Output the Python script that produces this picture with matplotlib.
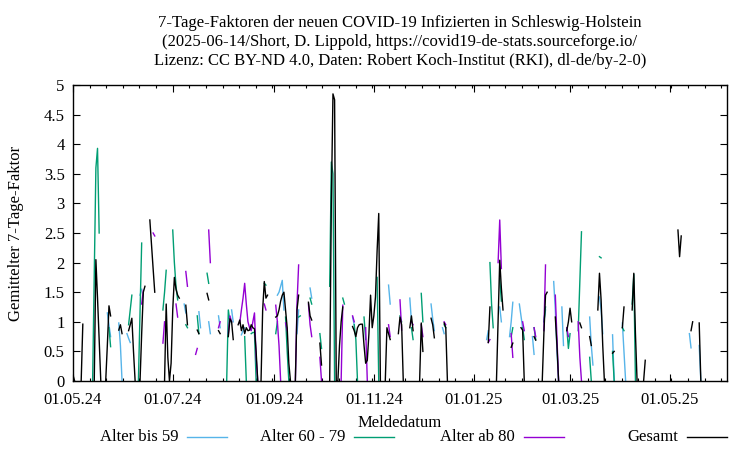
import matplotlib
matplotlib.use('Agg')
import matplotlib.pyplot as plt
import matplotlib.dates as mdates
from matplotlib.ticker import MultipleLocator, AutoMinorLocator, FuncFormatter
from matplotlib.lines import Line2D
import numpy as np
import pandas as pd

plt.rcParams['font.family'] = ['Liberation Serif', 'DejaVu Serif']
plt.rcParams['font.size'] = 12

# Tageswerte; Segmente = (Tag seit 01.05.2024, Werte)
start = pd.Timestamp('2024-05-01')
n_tage = 401

bis59 = [
    (21, [1.15, 0.95, 0.75]), (28, [0.98, 0.6, 0]), (33, [0.8, 0.72, 0.65]),
    (41, [1.45, 1.55]), (68, [1.3, 1.15]), (77, [1.17, 0.9]), (83, [1.0, 0.8]),
    (89, [1.1, 0.9]), (97, [1.2, 1.0]), (103, [0.78, 0.85, 0.9]),
    (125, [1.45, 1.5, 1.6, 1.7, 1.2]), (137, [0.8, 1.2]), (145, [1.57, 1.4]),
    (171, [1.08, 0.95]), (193, [1.62, 1.3]), (206, [1.4, 1.0]),
    (219, [1.3, 1.05, 0.85]), (226, [0.9, 0.8]), (253, [0.7, 0.85]),
    (261, [1.25, 1.0]), (267, [0.75, 1.0, 1.33]), (273, [1.3, 1.1, 0.9]),
    (281, [0.75, 0.45]), (288, [1.0, 1.2]), (294, [1.68, 1.2, 0.5, 0]),
    (299, [1.25, 0.6]), (316, [1.08, 0.6, 0.27]), (322, [1.42, 1.2, 0.8]),
    (330, [0.78, 0]), (336, [0.98, 0.5, 0]), (377, [0.8, 0.56]), (383, [0.6, 0]),
]

alter60_79 = [
    (12, [0, 1.8, 3.6, 3.93, 2.5]), (22, [0.9, 0.58]), (34, [0.95, 1.2, 1.45]),
    (40, [0, 1.2, 2.33]), (55, [1.2, 1.5, 1.87]), (61, [2.55, 2.0, 1.6, 1.37]),
    (69, [0.95, 0.9]), (76, [1.1, 0.8]), (82, [1.82, 1.65]), (94, [0, 1.2, 1.0]),
    (105, [0.75, 0]), (109, [0.8, 0.82, 0.82, 0]), (117, [1.65, 1.62]),
    (124, [0.8, 1.0]), (130, [1.08, 0.5, 0]), (138, [1.08, 1.1]),
    (145, [1.4, 1.3]), (151, [0.8, 0.55]), (157, [1.6, 3.7, 3.5, 0]),
    (165, [1.4, 1.3]), (172, [0.95, 0.7, 0]), (178, [1.08, 0.7]),
    (186, [1.75, 0]), (200, [1.1, 1.0]), (207, [0.9, 0.7]), (213, [1.48, 1.0]),
    (227, [0.95, 0.9]), (255, [2.0, 1.3, 0.9]), (261, [1.73, 1.35]),
    (268, [0.75, 0.9]), (275, [0.9, 0.7]), (282, [0.9, 0.7]), (288, [1.0, 1.25]),
    (302, [0.9, 0.55, 0.8]), (309, [0.85, 1.7, 2.52]), (316, [0.4, 0]),
    (322, [2.1, 2.08]), (330, [0.5, 0]), (336, [0.9, 0.85]), (342, [1.3, 1.8, 0]),
]

ab80 = [
    (42, [1.3, 1.53]), (49, [2.5, 2.45]), (55, [0.64, 1.0]), (63, [1.3, 1.08]),
    (69, [1.85, 1.6]), (75, [0.45, 0.55]), (83, [2.55, 2.0]), (89, [0.9, 1.0]),
    (95, [0.8, 1.1, 1.0]),
    (102, [0.98, 1.2, 1.4, 1.65, 1.3, 1.0, 0.9, 0.85, 1.0, 1.15, 0.4, 0]),
    (117, [1.3, 1.2]), (124, [1.28, 1.0, 0.6, 0]), (130, [0.98, 0.85]),
    (136, [0, 1.3, 1.96]), (144, [1.3, 0.95, 0.75]), (151, [0.4, 0]),
    (164, [0, 1.28]), (171, [1.1, 1.0]), (179, [0.9, 0]), (193, [0.95, 0.75]),
    (200, [1.37, 0.86]), (207, [1.0, 0.95]), (213, [0.95, 0.75]),
    (227, [1.0, 0.95]), (254, [0.65, 0.7]), (260, [2.0, 2.72, 1.9]),
    (268, [0.8, 0.4]), (275, [1.0, 0.85]), (282, [0.9, 0.75]), (288, [0.85, 1.96]),
    (295, [1.45, 0.7, 0]), (302, [0.9, 0.75]), (309, [1.0, 0.4, 0]),
]

gesamt = [
    (0, [0.1, 0]), (5, [0, 0.96]), (13, [0, 2.05, 1.4, 0.7, 0]),
    (20, [0, 0.6, 1.27, 1.1]), (28, [0.86, 0.95, 0.8]),
    (34, [0.85, 0.95, 1.06, 0.5, 0]), (41, [0, 0.8, 1.5, 1.6]),
    (47, [2.72, 2.3, 1.9, 1.5]), (56, [0, 1.3, 0.4, 0]),
    (60, [0.3, 1.2, 1.75, 1.55, 1.45, 1.4]), (69, [1.28, 0.95]), (76, [0.86, 0.8]),
    (82, [1.48, 1.37]), (89, [0.85, 0.8]), (95, [0.75, 1.05, 1.0, 0.7]),
    (101, [0.95, 1.03, 0.85, 0.95, 0.8, 0.9, 0.85, 0.86, 0.95, 0.9, 0.88, 0.5, 0]),
    (115, [0, 1.2, 1.68, 1.4, 1.45]),
    (124, [1.08, 1.1, 1.2, 1.35, 1.45, 1.5, 1.2, 0.9, 0.3, 0]),
    (136, [0, 1.2, 1.45]), (144, [1.33, 1.1, 1.03]), (151, [0.64, 0.27]),
    (157, [0, 3.0, 4.85, 4.75, 0]), (162, [0, 0.6, 1.0, 1.25]),
    (171, [0.92, 0.85, 0.75, 0.9, 0.95, 0.96, 0.96, 0.6, 0.3, 0.35, 0.8, 1.45,
           0.9, 1.1, 1.42, 2.2, 2.83, 0]),
    (191, [0, 0.9, 0.8, 0.7]), (199, [0.8, 1.08, 0.95, 0]), (206, [0.9, 1.1, 0.85]),
    (212, [0, 0.98, 0.5]), (219, [1.06, 0.95, 0.73]), (227, [0.98, 0.9, 0]),
    (254, [0.65, 1.25]), (259, [0, 1.0, 2.04, 1.57, 1.2]), (268, [0.57, 0.64]),
    (274, [0.9, 0.86, 0]), (282, [0.75, 0.69]), (287, [0, 0.8, 1.45, 1.5]),
    (295, [1.08, 0.6, 0]), (302, [0.85, 1.0, 1.23, 1.0]), (310, [0.98, 0.9]),
    (316, [0.75, 0.6]), (321, [1.2, 1.82, 1.37, 0.6, 0]), (330, [0.47, 0.5]),
    (336, [0.9, 1.25]), (342, [1.2, 1.82, 0.8, 0]), (349, [0, 0.35]),
    (370, [2.55, 2.1, 2.45]), (378, [0.85, 1.0]), (383, [0.98, 0]),
]

namen = ['Alter bis 59', 'Alter 60 - 79', 'Alter ab 80', 'Gesamt']
farben = ['#56b4e9', '#009e73', '#9400d3', '#000000']


def reihe(segmente):
    werte = np.full(n_tage, np.nan)
    for tag, vals in segmente:
        werte[tag:tag + len(vals)] = vals
    return werte


tage = pd.date_range(start, periods=n_tage, freq='D')

fig = plt.figure(figsize=(7.5, 4.5), dpi=100)
ax = fig.add_axes([73 / 750, 69 / 450, 654 / 750, 296 / 450])

for seg, farbe in zip([bis59, alter60_79, ab80, gesamt], farben):
    ax.plot(tage, reihe(seg), color=farbe, lw=1.0)

ax.set_xlim(start, start + pd.Timedelta(days=400))
ax.set_ylim(0, 5)
ax.xaxis.set_major_locator(mdates.MonthLocator(bymonth=[1, 3, 5, 7, 9, 11]))
ax.xaxis.set_major_formatter(mdates.DateFormatter('%d.%m.%y'))
ax.xaxis.set_minor_locator(AutoMinorLocator(6))
ax.yaxis.set_major_locator(MultipleLocator(0.5))
ax.yaxis.set_major_formatter(FuncFormatter(lambda v, p: f'{v:g}'))
ax.tick_params(which='both', direction='in', top=True, right=True, width=0.8)
ax.tick_params(axis='y', which='major', length=5, pad=6)
ax.tick_params(axis='x', which='major', length=5, pad=8)
ax.tick_params(which='minor', length=2.5)
for s in ax.spines.values():
    s.set_linewidth(1.0)

ax.set_xlabel('Meldedatum', labelpad=5)
ax.set_ylabel('Gemittelter 7-Tage-Faktor')
ax.yaxis.set_label_coords(-0.075, 0.5)

fig.text(400 / 750, 1 - 42 / 450,
         '7-Tage-Faktoren der neuen COVID-19 Infizierten in Schleswig-Holstein\n'
         '(2025-06-14/Short, D. Lippold, https://covid19-de-stats.sourceforge.io/\n'
         'Lizenz: CC BY-ND 4.0, Daten: Robert Koch-Institut (RKI), dl-de/by-2-0)',
         ha='center', va='center', linespacing=1.25)

# Legende im gnuplot-Stil: Text rechtsbuendig, Linie dahinter
text_rechts = [178, 345, 515, 678]
for name, farbe, xr in zip(namen, farben, text_rechts):
    fig.text(xr / 750, 1 - 437 / 450, name, ha='right', va='center')
    fig.add_artist(Line2D([(xr + 9) / 750, (xr + 49) / 750],
                          [1 - 437 / 450, 1 - 437 / 450], color=farbe, lw=1.0))

fig.savefig('out.png', dpi=100)
